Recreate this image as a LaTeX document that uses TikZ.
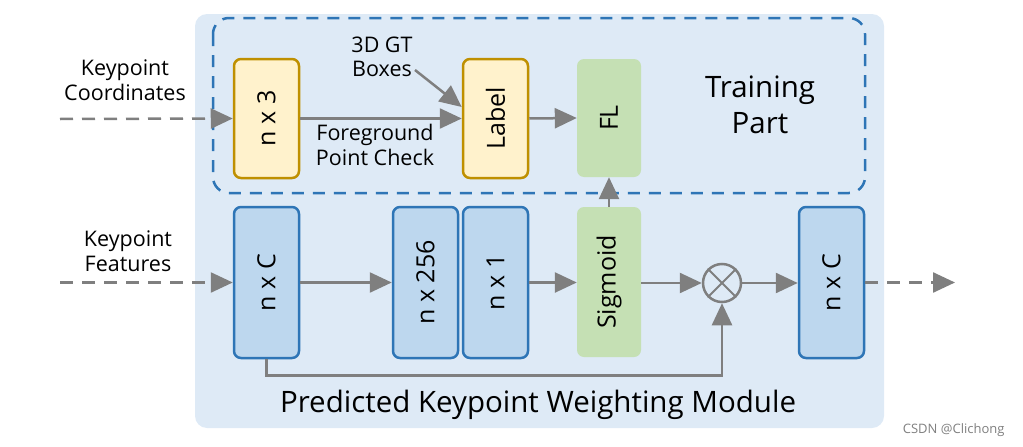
\documentclass[tikz,border=0pt]{standalone}
\usepackage{fontspec}
\setmainfont{Open Sans}
\usetikzlibrary{arrows.meta}
\definecolor{bgblue}{HTML}{DEEAF6}
\definecolor{dblue}{HTML}{2E75B6}
\definecolor{yfill}{HTML}{FFF2CC}
\definecolor{ydraw}{HTML}{BF9000}
\definecolor{gfill}{HTML}{C5E0B4}
\definecolor{bfill}{HTML}{BDD7EE}
\definecolor{agray}{HTML}{7F7F7F}
\tikzset{
  ybox/.style={draw=ydraw, fill=yfill, line width=2.5pt, rounded corners=7pt, minimum width=65pt, minimum height=119pt, inner sep=0pt},
  bbox/.style={draw=dblue, fill=bfill, line width=2.5pt, rounded corners=7pt, minimum width=65pt, minimum height=151pt, inner sep=0pt},
  gbox/.style={fill=gfill, rounded corners=7pt, minimum width=64pt, inner sep=0pt},
  vtext/.style={rotate=90, font=\fontsize{25}{28}\selectfont, text=black},
  lbl/.style={align=center, font=\fontsize{21.5}{24.5}\selectfont, text=black},
  big/.style={align=center, font=\fontsize{29.5}{36}\selectfont, text=black},
  arr/.style={draw=agray, line width=2.5pt, -{Triangle[length=22pt,width=20pt]}},
  darr/.style={arr, dash pattern=on 13pt off 9pt},
}
\begin{document}
\begin{tikzpicture}[x=1pt,y=-1pt]
\useasboundingbox (0,0) rectangle (1023,447);
% background module
\fill[bgblue, rounded corners=12pt] (195,14) rectangle (884,428);
% training part dashed box
\draw[dblue, line width=2.5pt, dash pattern=on 12pt off 9pt, rounded corners=16pt] (213,18) rectangle (865,193);
% top row
\node[ybox] (nx3) at (266.5,118.5) {};
\node[vtext] at (nx3) {n x 3};
\node[ybox] (lab) at (495.5,118.5) {};
\node[vtext] at (lab) {Label};
\node[gbox, minimum height=118pt] (fl) at (609,118) {};
\node[vtext] at (fl) {FL};
\node[big] (train) at (760,105) {Training\\Part};
\node[lbl] (gt) at (382,57) {3D GT\\Boxes};
\node[lbl] (fg) at (375,145) {Foreground\\Point Check};
\node[lbl] (kc) at (125,80) {Keypoint\\Coordinates};
\node[lbl] (kf) at (128,251) {Keypoint\\Features};
% bottom row
\node[bbox] (nxc) at (266.5,282.5) {};
\node[vtext] at (nxc) {n x C};
\node[bbox] (n256) at (425.5,282.5) {};
\node[vtext] at (n256) {n x 256};
\node[bbox] (n1) at (495.5,282.5) {};
\node[vtext] at (n1) {n x 1};
\node[gbox, minimum height=150pt] (sig) at (609,282) {};
\node[vtext] at (sig) {Sigmoid};
\node[draw=agray, line width=2.5pt, circle, minimum size=38pt, inner sep=0pt] (ot) at (722,283) {};
\draw[agray, line width=2pt] (ot.north east) -- (ot.south west) (ot.north west) -- (ot.south east);
\node[bbox] (nxc2) at (831.5,282.5) {};
\node[vtext] at (nxc2) {n x C};
\node[big] (title) at (538,405) {Predicted Keypoint Weighting Module};
\node[font=\fontsize{13}{15}\selectfont, text=agray, anchor=east] (wm) at (1008,430) {CSDN @Clichong};
% coordinates
\coordinate (kcs) at (60,119);
\coordinate (kfs) at (60,282.5);
\coordinate (outend) at (955,282.5);
\coordinate (gts) at (415,70);
% connectors
\draw[darr] (kcs) -- (nx3.west);
\draw[darr] (kfs) -- (nxc.west);
\draw[arr] (nx3.east) -- (lab.west);
\draw[arr] (gts) -- (lab.west |- 0,107);
\draw[arr] (lab.east) -- (fl.west);
\draw[arr] (sig.north) -- (fl.south);
\draw[arr] (nxc.east) -- (n256.west);
\draw[arr] (n1.east) -- (sig.west |- n1.east);
\draw[arr] (sig.east |- ot.west) -- (ot.west);
\draw[arr] (ot.east) -- (nxc2.west |- ot.east);
\draw[arr] (nxc.south) -- ++(0,16) -| (ot.south);
\draw[darr] (nxc2.east) -- (outend);
\end{tikzpicture}
\end{document}
